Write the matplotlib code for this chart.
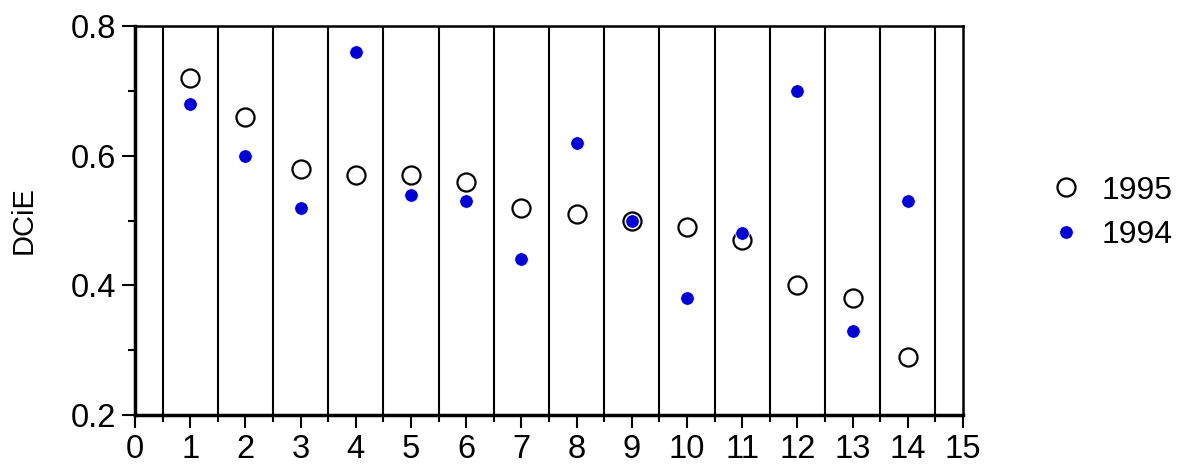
import matplotlib
matplotlib.use("Agg")
import matplotlib.pyplot as plt
from matplotlib.ticker import MultipleLocator

plt.rcParams['font.family'] = ['Liberation Sans', 'DejaVu Sans']

sites = [1, 2, 3, 4, 5, 6, 7, 8, 9, 10, 11, 12, 13, 14]
dcie_1995 = [0.72, 0.66, 0.58, 0.57, 0.57, 0.56, 0.52, 0.51, 0.50, 0.49, 0.47, 0.40, 0.38, 0.29]
dcie_1994 = [0.68, 0.60, 0.52, 0.76, 0.54, 0.53, 0.44, 0.62, 0.50, 0.38, 0.48, 0.70, 0.33, 0.53]
labels = ["1995", "1994"]
y_label = "DCiE"

fig = plt.figure(figsize=(11.83, 4.66), dpi=100)
ax = fig.add_axes([135/1183, 1-415/466, (963-135)/1183, (415-26)/466])

ax.plot(sites, dcie_1995, linestyle='none', marker='o', ms=13, mfc='white',
        mec='black', mew=1.6, label=labels[0], zorder=3)
ax.plot(sites, dcie_1994, linestyle='none', marker='o', ms=9.8, mfc='#0000d4',
        mec='white', mew=0.6, label=labels[1], zorder=4)

ax.set_xlim(0, 15)
ax.set_ylim(0.2, 0.8)
ax.xaxis.set_major_locator(MultipleLocator(1))
ax.xaxis.set_minor_locator(MultipleLocator(1, offset=0.5))
ax.yaxis.set_major_locator(MultipleLocator(0.2))
ax.yaxis.set_minor_locator(MultipleLocator(0.1))
ax.yaxis.set_major_formatter(matplotlib.ticker.FormatStrFormatter('%.1f'))

ax.grid(which='minor', axis='x', color='black', linewidth=1.5)
ax.grid(which='major', axis='both', visible=False)

ax.tick_params(which='major', direction='out', length=9.5, width=1.5, labelsize=23.5, pad=4, color='black')
ax.tick_params(which='minor', direction='out', length=5, width=1.5, color='black')

for side, lw in [('left', 2.5), ('bottom', 2.5), ('top', 1.8), ('right', 1.8)]:
    ax.spines[side].set_linewidth(lw)
    ax.spines[side].set_color('black')

ax.set_ylabel(y_label, fontsize=21)
ax.yaxis.set_label_coords(-0.118, 0.5)

leg = ax.legend(loc='center left', bbox_to_anchor=(1.09, 0.52), frameon=False,
                fontsize=23, handletextpad=0.6, labelspacing=0.45, handlelength=1.0,
                borderaxespad=0)

fig.savefig("out.png", dpi=100)
